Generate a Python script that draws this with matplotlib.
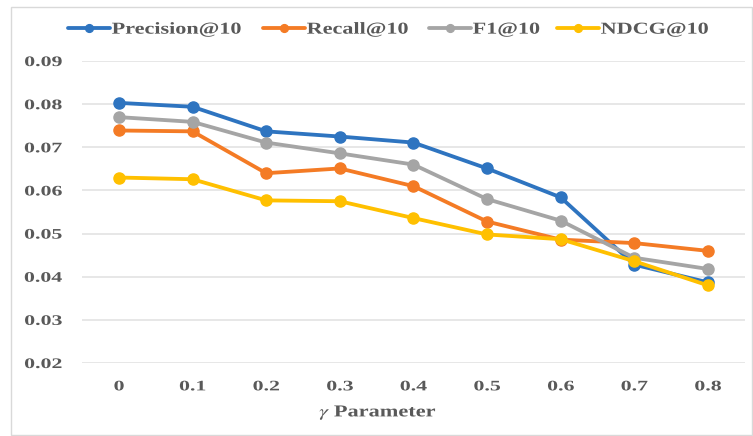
import matplotlib
matplotlib.use("Agg")
import matplotlib.pyplot as plt
from matplotlib.patches import Rectangle
from matplotlib.patheffects import AbstractPathEffect
from matplotlib.transforms import Affine2D
from matplotlib.legend_handler import HandlerLine2D

gamma_labels = ["0", "0.1", "0.2", "0.3", "0.4", "0.5", "0.6", "0.7", "0.8"]
precision = [0.0803, 0.0794, 0.0737, 0.0725, 0.0711, 0.0651, 0.0584, 0.0428, 0.0387]
recall = [0.0739, 0.0737, 0.0640, 0.0651, 0.0610, 0.0528, 0.0486, 0.0478, 0.0460]
f1 = [0.0770, 0.0759, 0.0711, 0.0686, 0.0660, 0.0580, 0.0530, 0.0444, 0.0418]
ndcg = [0.0630, 0.0626, 0.0577, 0.0575, 0.0536, 0.0498, 0.0487, 0.0436, 0.0380]
y_ticks = [0.02, 0.03, 0.04, 0.05, 0.06, 0.07, 0.08, 0.09]
series_names = ["Precision@10", "Recall@10", "F1@10", "NDCG@10"]
series_values = [precision, recall, f1, ndcg]
series_colors = ["#2E74C0", "#F47B25", "#A5A5A5", "#FFC000"]


class WideText(AbstractPathEffect):
    """Stretch glyphs horizontally, keeping the text's alignment anchor fixed."""

    def __init__(self, sx, anchor=0.0):
        super().__init__()
        self.sx = sx
        self.anchor = anchor

    def draw_path(self, renderer, gc, tpath, affine, rgbFace=None):
        verts = tpath.vertices
        width = verts[:, 0].max() if len(verts) else 0.0
        shift = -(self.sx - 1.0) * width * self.anchor
        stretch = Affine2D().scale(self.sx, 1.0).translate(shift, 0.0)
        renderer.draw_path(gc, tpath, stretch + affine, rgbFace)


plt.rcParams["font.family"] = ["Liberation Serif", "DejaVu Serif"]
plt.rcParams["mathtext.fontset"] = "stix"
text_color = "#595959"

fig = plt.figure(figsize=(7.53, 4.36), dpi=100)
ax = fig.add_axes([0.109, 0.1674, 0.880, 0.6926])

x = list(range(len(gamma_labels)))
lines = []
for name, vals, color in zip(series_names, series_values, series_colors):
    ln, = ax.plot(x, vals, color=color, lw=2.75, marker="o", markersize=8,
                  label=name, solid_capstyle="round")
    lines.append(ln)

ax.set_xlim(-0.5, len(gamma_labels) - 0.5)
ax.set_ylim(0.02, 0.09)
ax.set_yticks(y_ticks)
ax.set_yticklabels([f"{v:.2f}" for v in y_ticks])
ax.set_xticks(x)
ax.set_xticklabels(gamma_labels)
ax.grid(axis="y", color="#E3E3E3", lw=1.2)
ax.set_axisbelow(True)
for s in ax.spines.values():
    s.set_visible(False)
ax.tick_params(axis="both", length=0, labelsize=10.5, labelcolor=text_color)
ax.tick_params(axis="y", pad=14.4)
ax.tick_params(axis="x", pad=12.5)
for lbl in ax.get_yticklabels():
    lbl.set_fontweight("bold")
    lbl.set_path_effects([WideText(1.5, anchor=1.0)])
for lbl in ax.get_xticklabels():
    lbl.set_fontweight("bold")
    lbl.set_path_effects([WideText(1.5, anchor=0.5)])

xl = ax.set_xlabel(r"$\gamma$ Parameter", fontsize=12, fontweight="bold",
                   color=text_color)
xl.set_path_effects([WideText(1.34, anchor=0.5)])
ax.xaxis.set_label_coords(0.4465, -0.134)

# one legend entry per block, laid out across the top
entry_left = [68, 263, 429, 557]
for ln, name, left in zip(lines, series_names, entry_left):
    leg = fig.legend([ln], [name], loc="center left",
                     bbox_to_anchor=(left / 753, 0.932), frameon=False,
                     prop={"weight": "bold", "size": 12}, labelcolor=text_color,
                     handlelength=2.5, handletextpad=0.12, borderpad=0,
                     borderaxespad=0,
                     handler_map={ln: HandlerLine2D(marker_pad=0)},
                     markerscale=0.7)
    for t in leg.get_texts():
        t.set_path_effects([WideText(1.33, anchor=0.0)])

fig.patches.append(Rectangle((11 / 753, 1 / 436), 741 / 753, 428 / 436,
                             transform=fig.transFigure, fill=False,
                             edgecolor="#D9D9D9", lw=1.0))

fig.savefig("out.png", dpi=100)
